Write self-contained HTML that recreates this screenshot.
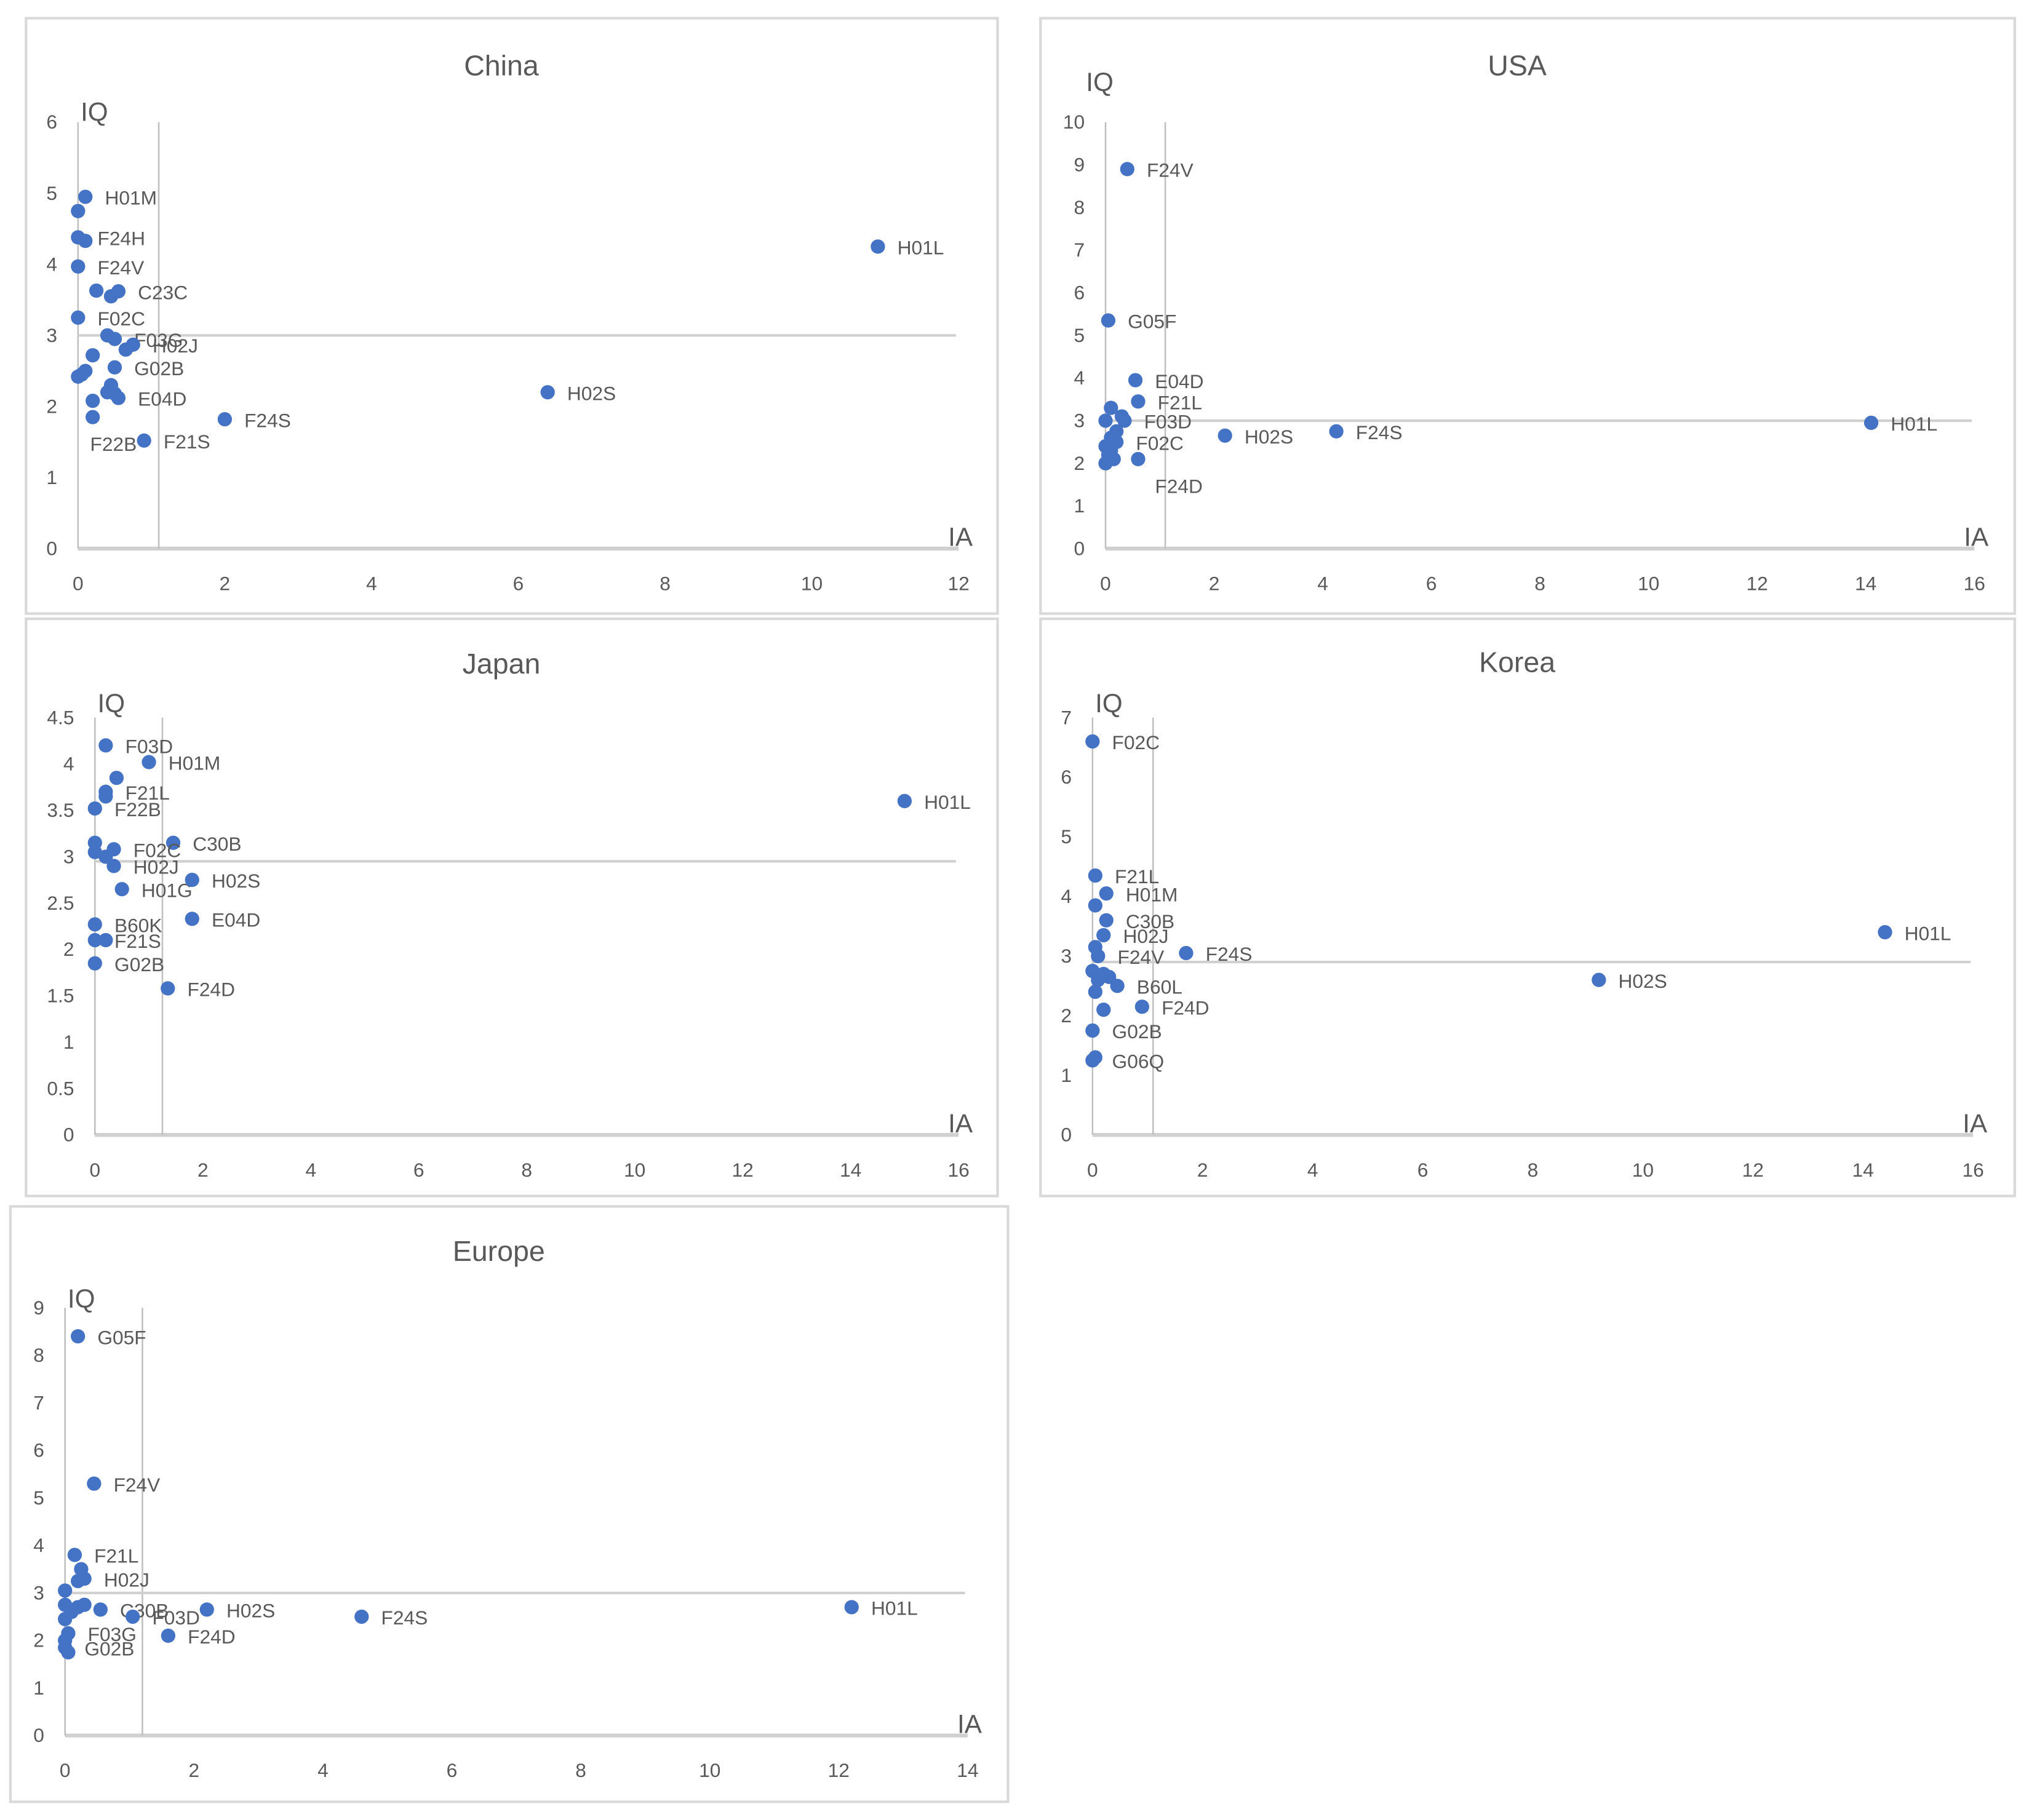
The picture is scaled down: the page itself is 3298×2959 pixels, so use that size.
<!DOCTYPE html>
<html><head><meta charset="utf-8"><style>
html,body{margin:0;padding:0;background:#fff;}
svg{display:block;font-family:"Liberation Sans",sans-serif;}
</style></head><body>
<svg id="chart" width="3298" height="2959" viewBox="0 0 1560 1400" preserveAspectRatio="none" xmlns="http://www.w3.org/2000/svg"></svg>
<script>
// ---- data ----
const chinaX = [0.1,0,0,0.1,0,0.25,0.45,0.55,0,0.4,0.5,0.65,0.75,0.2,0.1,0,0.05,0.5,0.45,0.4,0.5,0.55,0.2,0.2,0.9,2.0,6.4,10.9];
const chinaY = [4.95,4.75,4.38,4.33,3.97,3.63,3.55,3.62,3.25,3.0,2.95,2.8,2.87,2.72,2.5,2.42,2.45,2.55,2.3,2.2,2.18,2.12,2.08,1.85,1.52,1.82,2.2,4.25];
const chinaNames = ["H01M","","F24H","","F24V","","","C23C","F02C","","F03G","","H02J","","","","","G02B","","","","E04D","","F22B","F21S","F24S","H02S","H01L"];

const usaX = [0.4,0.05,0.55,0.6,0.1,0,0.3,0.35,0.1,0.2,0.2,0,0.1,0.05,0.15,0,0.6,2.2,4.25,14.1];
const usaY = [8.9,5.35,3.95,3.45,3.3,3.0,3.1,3.0,2.6,2.75,2.5,2.4,2.3,2.2,2.1,2.0,2.1,2.65,2.75,2.95];
const usaNames = ["F24V","G05F","E04D","F21L","","","","F03D","","","F02C","","","","","","F24D","H02S","F24S","H01L"];

const japanX = [0.2,1.0,0.4,0.2,0.2,0,1.45,0,0,0.2,0.35,0.35,0.5,1.8,1.8,0,0,0.2,0,1.35,15];
const japanY = [4.2,4.02,3.85,3.7,3.65,3.52,3.15,3.15,3.05,3.0,3.08,2.9,2.65,2.75,2.33,2.27,2.1,2.1,1.85,1.58,3.6];
const japanNames = ["F03D","H01M","","F21L","","F22B","C30B","","","","F02C","H02J","H01G","H02S","E04D","B60K","F21S","","G02B","F24D","H01L"];

const koreaX = [0,0.05,0.25,0.05,0.25,0.2,0.05,0.1,1.7,0,0.2,0.3,0.1,0.45,0.05,0.9,0.2,0,0,0.05,9.2,14.4];
const koreaY = [6.6,4.35,4.05,3.85,3.6,3.35,3.15,3.0,3.05,2.75,2.7,2.65,2.6,2.5,2.4,2.15,2.1,1.75,1.25,1.3,2.6,3.4];
const koreaNames = ["F02C","F21L","H01M","","C30B","H02J","","F24V","F24S","","","","","B60L","","F24D","","G02B","G06Q","","H02S","H01L"];

const europeX = [0.2,0.45,0.15,0.25,0.2,0.3,0,0,0.2,0.3,0.55,0.1,0,1.05,2.2,1.6,0.05,0,0,0.05,4.6,12.2];
const europeY = [8.4,5.3,3.8,3.5,3.25,3.3,3.05,2.75,2.7,2.75,2.65,2.6,2.45,2.5,2.65,2.1,2.15,2.0,1.85,1.75,2.5,2.7];
const europeNames = ["G05F","F24V","F21L","","","H02J","","","","","C30B","","","F03D","H02S","F24D","F03G","","G02B","","F24S","H01L"];

const chinaXTicks=[0,2,4,6,8,10,12], chinaYTicks=[0,1,2,3,4,5,6];
const usaXTicks=[0,2,4,6,8,10,12,14,16], usaYTicks=[0,1,2,3,4,5,6,7,8,9,10];
const japanXTicks=[0,2,4,6,8,10,12,14,16], japanYTicks=[0,0.5,1,1.5,2,2.5,3,3.5,4,4.5];
const koreaXTicks=[0,2,4,6,8,10,12,14,16], koreaYTicks=[0,1,2,3,4,5,6,7];
const europeXTicks=[0,2,4,6,8,10,12,14], europeYTicks=[0,1,2,3,4,5,6,7,8,9];
const chinaRef=[1.1,3], usaRef=[1.1,3], japanRef=[1.25,2.95], koreaRef=[1.1,2.9], europeRef=[1.2,3];

const NS="http://www.w3.org/2000/svg";
const svg=document.getElementById('chart');
function mk(tag,attrs,parent,text){const e=document.createElementNS(NS,tag);for(const k in attrs)e.setAttribute(k,attrs[k]);if(text!==undefined)e.textContent=text;(parent||svg).appendChild(e);return e;}

const panels=[
 {key:'china',title:'China',box:[20,14,747,458],px0:60,px1:737,py0:422,py1:94,titleY:58,iqX:62,iqY:93,xs:chinaX,ys:chinaY,names:chinaNames,xt:chinaXTicks,yt:chinaYTicks,ref:chinaRef,belowLeft:["F22B"],belowLabels:[]},
 {key:'usa',title:'USA',box:[800,14,749,458],px0:850,px1:1518,py0:422,py1:94,titleY:58,iqX:835,iqY:70,xs:usaX,ys:usaY,names:usaNames,xt:usaXTicks,yt:usaYTicks,ref:usaRef,belowLeft:[],belowLabels:["F24D"]},
 {key:'japan',title:'Japan',box:[20,476,747,444],px0:73,px1:737,py0:873,py1:552,titleY:518,iqX:75,iqY:548,xs:japanX,ys:japanY,names:japanNames,xt:japanXTicks,yt:japanYTicks,ref:japanRef,belowLeft:[],belowLabels:[]},
 {key:'korea',title:'Korea',box:[800,476,749,444],px0:840,px1:1517,py0:873,py1:552,titleY:517,iqX:842,iqY:548,xs:koreaX,ys:koreaY,names:koreaNames,xt:koreaXTicks,yt:koreaYTicks,ref:koreaRef,belowLeft:[],belowLabels:[]},
 {key:'europe',title:'Europe',box:[8,928,767,458],px0:50,px1:744,py0:1335,py1:1006,titleY:970,iqX:52,iqY:1006,xs:europeX,ys:europeY,names:europeNames,xt:europeXTicks,yt:europeYTicks,ref:europeRef,belowLeft:[],belowLabels:[]}
];

panels.forEach(p=>{
 const g=mk('g',{});
 
 
 const xmax=p.xt[p.xt.length-1], ymax=p.yt[p.yt.length-1];
 const sx=v=>p.px0+(p.px1-p.px0)*v/xmax;
 const sy=v=>p.py0-(p.py0-p.py1)*v/ymax;
 const bx=mk('rect',{x:p.box[0],y:p.box[1],width:p.box[2],height:p.box[3],fill:'#fff',stroke:'#d9d9d9','stroke-width':2},g);
 
 
 const t=mk('text',{x:p.box[0]+p.box[2]/2-8,y:p.titleY,'text-anchor':'middle','font-size':22,fill:'#595959'},g,p.title);
 
 
 const xa=mk('line',{x1:p.px0,y1:p.py0,x2:p.px1,y2:p.py0,stroke:'#d0d0d0','stroke-width':3},g);
 
 
 const ya=mk('line',{x1:p.px0,y1:p.py0,x2:p.px0,y2:p.py1,stroke:'#bfbfbf','stroke-width':1.2},g);
 
 
 const rv=mk('line',{x1:sx(p.ref[0]),y1:p.py0,x2:sx(p.ref[0]),y2:p.py1,stroke:'#bfbfbf','stroke-width':1.2},g);
 
 
 const rh=mk('line',{x1:p.px0,y1:sy(p.ref[1]),x2:p.px1-2,y2:sy(p.ref[1]),stroke:'#d0d0d0','stroke-width':2},g);
 
 
 p.xt.forEach(v=>{
  const e=mk('text',{x:sx(v),y:p.py0+32,'text-anchor':'middle','font-size':15,fill:'#595959'},g,String(v));
  
  
 });
 p.yt.forEach(v=>{
  const e=mk('text',{x:p.px0-16,y:sy(v)+5,'text-anchor':'end','font-size':15,fill:'#595959'},g,String(v));
  
  
 });
 const iq=mk('text',{x:p.iqX,y:p.iqY,'font-size':20,fill:'#595959'},g,'IQ');
 
 
 const ia=mk('text',{x:p.px1-8,y:p.py0-2,'font-size':20,fill:'#595959'},g,'IA');
 
 
 p.xs.forEach((xv,i)=>{
  const c=mk('circle',{cx:sx(xv),cy:sy(p.ys[i]),r:5.5,fill:'#4472c4'},g);
  
  
  const n=p.names[i];
  if(n){
   let lx=sx(xv)+15, ly=sy(p.ys[i])+6;
   if(p.belowLeft.includes(n)){lx=sx(xv)-2;ly+=20;}
   if(p.belowLabels.includes(n)){lx=sx(xv)+13;ly+=20;}
   const l=mk('text',{x:lx,y:ly,'font-size':15,fill:'#595959'},g,n);
   
   
  }
 });
});
</script>
</body></html>
